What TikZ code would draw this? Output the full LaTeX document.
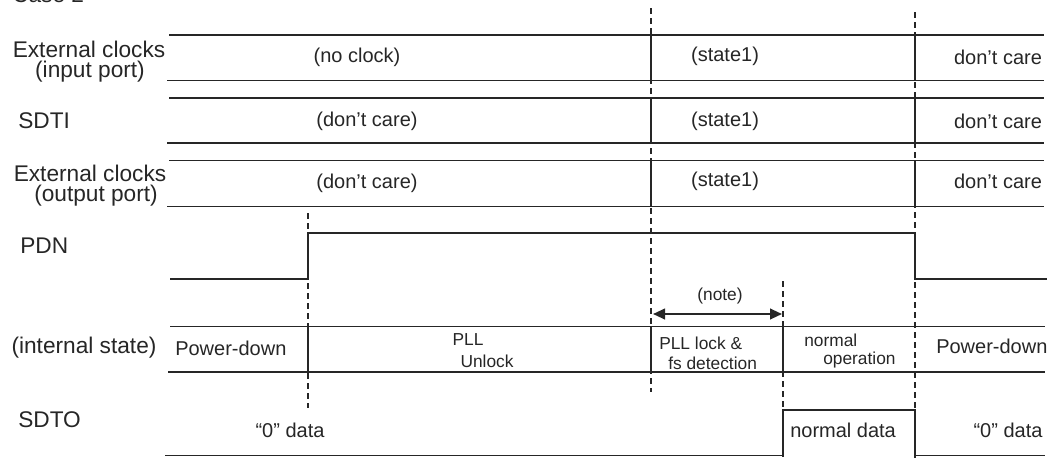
\documentclass[tikz,border=0pt]{standalone}
\usepackage{fontspec}
\setmainfont{Liberation Sans}
\usetikzlibrary{arrows.meta}
\begin{document}
\begin{tikzpicture}[x=0.75pt,y=-0.75pt,
  sig/.style={line width=1.3pt, color=black!85},
  guide/.style={line width=1.1pt, color=black!85, dash pattern=on 4.5pt off 3pt},
  big/.style={font=\fontsize{17}{19}\selectfont, inner sep=0pt, text=black!85},
  mid/.style={font=\fontsize{15}{18}\selectfont, inner sep=0pt, text=black!85},
  small/.style={font=\fontsize{13}{15}\selectfont, inner sep=0pt, text=black!85}]
\useasboundingbox (0,0) rectangle (1048,461);

% dashed guide lines
\coordinate (g1t) at (308,213); \coordinate (g1b) at (308,408);
\coordinate (g2t) at (651,8);   \coordinate (g2b) at (651,392);
\coordinate (g3t) at (783,281); \coordinate (g3b) at (783,461);
\coordinate (g4t) at (915,12);  \coordinate (g4b) at (915,461);
\draw[guide] (g1t) -- (g1b);
\draw[guide] (g2t) -- (g2b);
\draw[guide] (g3t) -- (g3b);
\draw[guide] (g4t) -- (g4b);

% External clocks (input port)
\draw[sig] (169,35) -- (1044,35);
\draw[sig] (167,80.5) -- (1044,80.5);
\draw[sig] (651,35) -- (651,80.5);
\draw[sig] (915,35) -- (915,80.5);
% SDTI
\draw[sig] (169,98) -- (1044,98);
\draw[sig] (167,143) -- (1044,143);
\draw[sig] (651,98) -- (651,143);
\draw[sig] (915,98) -- (915,143);
% External clocks (output port)
\draw[sig] (169,160.5) -- (1044,160.5);
\draw[sig] (167,206.5) -- (1044,206.5);
\draw[sig] (651,160.5) -- (651,206.5);
\draw[sig] (915,160.5) -- (915,206.5);
% PDN
\draw[sig] (170,279) -- (308,279) -- (308,233) -- (915,233) -- (915,279) -- (1047,279);
% internal state
\draw[sig] (170,326.5) -- (1045,326.5);
\draw[sig] (168,372) -- (1045,372);
\draw[sig] (308,326.5) -- (308,372);
\draw[sig] (651,326.5) -- (651,372);
\draw[sig] (783,326.5) -- (783,372);
% SDTO
\draw[sig] (165,455.5) -- (783,455.5) -- (783,410) -- (915,410) -- (915,455.5) -- (1045,455.5);

% note arrow
\coordinate (na) at (653,314); \coordinate (nb) at (782,314);
\draw[sig, line width=1.5pt, {Triangle[length=9pt,width=8pt]}-{Triangle[length=9pt,width=8pt]}] (na) -- (nb);
\node[small] (note) at (720,296) {(note)};

% left labels
\node[big, anchor=base west] (case) at (12,2) {Case 2};
\node[big] (extin1) at (89,49) {External clocks};
\node[big] (extin2) at (90,72) {(input port)};
\node[big, anchor=west] (sdti) at (18,121) {SDTI};
\node[big] (extout1) at (90,173) {External clocks};
\node[big] (extout2) at (96,196) {(output port)};
\node[big, anchor=west] (pdn) at (20,246) {PDN};
\node[big] (istate) at (84,348) {(internal state)};
\node[big, anchor=west] (sdto) at (18,420) {SDTO};

% row texts
\node[mid] (t1a) at (357,57) {(no clock)};
\node[mid] (t1b) at (725,56) {(state1)};
\node[mid] (t1c) at (998,57) {don’t care};
\node[mid] (t2a) at (367,121) {(don’t care)};
\node[mid] (t2b) at (725,121) {(state1)};
\node[mid] (t2c) at (998,121) {don’t care};
\node[mid] (t3a) at (367,183) {(don’t care)};
\node[mid] (t3b) at (725,181) {(state1)};
\node[mid] (t3c) at (998,181) {don’t care};

\node[mid, anchor=west] (pd1) at (175,348) {Power-down};
\node[small] (pll1) at (468,340) {PLL};
\node[small] (pll2) at (487,361) {Unlock};
\node[small, anchor=west] (lk1) at (659,343) {PLL lock \&};
\node[small, anchor=west] (lk2) at (668,363) {fs detection};
\node[small, anchor=west] (no1) at (804,340) {normal};
\node[small, anchor=west] (no2) at (823,360) {operation};
\node[mid, anchor=west] (pd2) at (936,346) {Power-down};

\node[mid] (z1) at (290,430) {“0” data};
\node[mid, anchor=west] (nd) at (790,430) {normal data};
\node[mid] (z2) at (1008,430) {“0” data};
\end{tikzpicture}
\end{document}
